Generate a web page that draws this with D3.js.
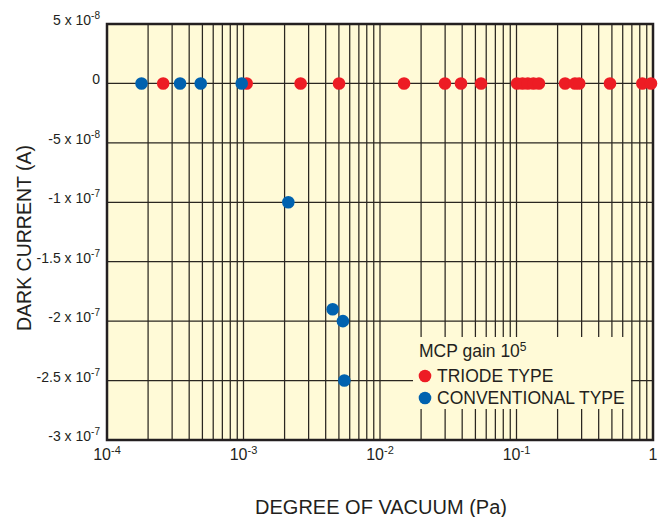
<!DOCTYPE html>
<html>
<head>
<meta charset="utf-8">
<script src="https://cdn.jsdelivr.net/npm/d3@7"></script>
<style>
  body { margin: 0; background: #fff; }
  text { font-family: "Liberation Sans", Arial, sans-serif; fill: #231f20; }
</style>
</head>
<body>
<div class="canvas"></div>
<script>
// data: pressure (Pa) and dark current (A)
const triodeX = [2.58e-4, 1.055e-3, 2.62e-3, 5.01e-3, 1.5e-2, 2.99e-2, 3.92e-2, 5.5e-2,
                 0.101, 0.1107, 0.121, 0.133, 0.146, 0.227, 0.268, 0.288, 0.484, 0.835, 0.967];
const triodeY = [0, 0, 0, 0, 0, 0, 0, 0, 0, 0, 0, 0, 0, 0, 0, 0, 0, 0, 0];
const convX = [1.79e-4, 3.43e-4, 4.86e-4, 9.7e-4, 2.13e-3, 4.5e-3, 5.35e-3, 5.48e-3];
const convY = [0, 0, 0, 0, -1e-7, -1.9e-7, -2.0e-7, -2.5e-7];

const yTicks = [5e-8, 0, -5e-8, -1e-7, -1.5e-7, -2e-7, -2.5e-7, -3e-7];
const yTickMant = ["5", "0", "-5", "-1", "-1.5", "-2", "-2.5", "-3"];
const yTickExp = ["-8", null, "-8", "-7", "-7", "-7", "-7", "-7"];
const xTicks = [1e-4, 1e-3, 1e-2, 1e-1, 1];
const xTickExp = ["-4", "-3", "-2", "-1", null];

const legendNames = ["TRIODE TYPE", "CONVENTIONAL TYPE"];
const legendColours = ["#ed1c24", "#0062af"];

const dims = { width: 665, height: 517 };
const plot = { left: 107, right: 653, top: 24, bottom: 440 };
const bg = "#fffad7";
const r = 6.3;

const svg = d3.select('.canvas')
  .append('svg')
  .attr('width', dims.width)
  .attr('height', dims.height);

const x = d3.scaleLog()
  .domain([1e-4, 1])
  .range([plot.left, plot.right]);

const y = d3.scaleLinear()
  .domain([-3e-7, 5e-8])
  .range([plot.bottom, plot.top]);

// plot background
svg.append('rect')
  .attr('x', plot.left)
  .attr('y', plot.top)
  .attr('width', plot.right - plot.left)
  .attr('height', plot.bottom - plot.top)
  .attr('fill', bg);

// grid lines (every multiple on the log axis, every 5e-8 on y)
const grid = svg.append('g');
grid.selectAll('line.v')
  .data(x.ticks())
  .enter()
  .append('line')
    .attr('class', 'v')
    .attr('x1', d => x(d))
    .attr('x2', d => x(d))
    .attr('y1', plot.top)
    .attr('y2', plot.bottom)
    .attr('stroke', '#2a2620')
    .attr('stroke-width', 1.25);

grid.selectAll('line.h')
  .data(yTicks)
  .enter()
  .append('line')
    .attr('class', 'h')
    .attr('x1', plot.left)
    .attr('x2', plot.right)
    .attr('y1', d => y(d))
    .attr('y2', d => y(d))
    .attr('stroke', '#2a2620')
    .attr('stroke-width', 1.25);

// legend box covers the grid
const legend = svg.append('g')
  .attr('transform', 'translate(413, 337)');

legend.append('rect')
  .attr('width', 218)
  .attr('height', 72)
  .attr('fill', bg);

const title = legend.append('text')
  .attr('x', 6)
  .attr('y', 20)
  .style('font-size', '17.5px');
title.append('tspan').text('MCP gain 10');
title.append('tspan')
  .attr('dy', -6)
  .style('font-size', '12px')
  .text('5');

const items = legend.selectAll('.item')
  .data(legendNames)
  .enter()
  .append('g')
  .attr('class', 'item')
  .attr('transform', (d, i) => `translate(0, ${39 + i * 22})`);

items.append('circle')
  .attr('cx', 12)
  .attr('cy', 0)
  .attr('r', r)
  .attr('fill', (d, i) => legendColours[i]);

items.append('text')
  .attr('x', 24)
  .attr('y', 6)
  .style('font-size', '17.5px')
  .text(d => d);

// frame
svg.append('rect')
  .attr('x', plot.left)
  .attr('y', plot.top)
  .attr('width', plot.right - plot.left)
  .attr('height', plot.bottom - plot.top)
  .attr('fill', 'none')
  .attr('stroke', '#231f20')
  .attr('stroke-width', 2.5);

// data points, conventional drawn on top
svg.append('g').selectAll('circle')
  .data(d3.zip(triodeX, triodeY))
  .enter()
  .append('circle')
    .attr('cx', d => x(d[0]))
    .attr('cy', d => y(d[1]))
    .attr('r', r)
    .attr('fill', legendColours[0]);

svg.append('g').selectAll('circle')
  .data(d3.zip(convX, convY))
  .enter()
  .append('circle')
    .attr('cx', d => x(d[0]))
    .attr('cy', d => y(d[1]))
    .attr('r', r)
    .attr('fill', legendColours[1]);

// y tick labels
const yLab = svg.append('g').selectAll('text')
  .data(yTicks)
  .enter()
  .append('text')
    .attr('x', 100)
    .attr('y', d => y(d) + 1)
    .attr('text-anchor', 'end')
    .style('font-size', '14px');

yLab.append('tspan')
  .text((d, i) => yTickExp[i] ? yTickMant[i] + ' x 10' : yTickMant[i]);
yLab.append('tspan')
  .attr('dy', -6)
  .style('font-size', '10px')
  .text((d, i) => yTickExp[i] || '');

// x tick labels
const xLab = svg.append('g').selectAll('text')
  .data(xTicks)
  .enter()
  .append('text')
    .attr('x', d => x(d))
    .attr('y', 460)
    .attr('text-anchor', 'middle')
    .style('font-size', '16px');

xLab.append('tspan')
  .text((d, i) => xTickExp[i] ? '10' : '1');
xLab.append('tspan')
  .attr('dy', -6)
  .style('font-size', '11px')
  .text((d, i) => xTickExp[i] || '');

// axis titles
svg.append('text')
  .attr('transform', 'translate(31, 238) rotate(-90)')
  .attr('text-anchor', 'middle')
  .style('font-size', '19.5px')
  .text('DARK CURRENT (A)');

svg.append('text')
  .attr('x', 381)
  .attr('y', 514)
  .attr('text-anchor', 'middle')
  .style('font-size', '20px')
  .text('DEGREE OF VACUUM (Pa)');
</script>
</body>
</html>
